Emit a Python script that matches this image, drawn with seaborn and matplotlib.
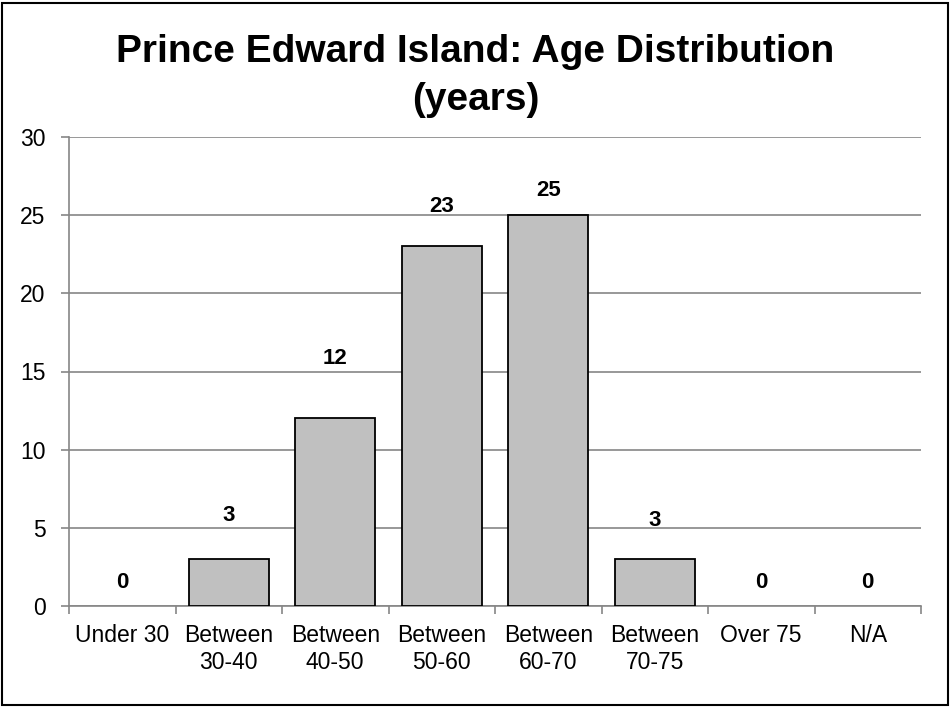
import matplotlib
matplotlib.use("Agg")
import matplotlib.pyplot as plt
import seaborn as sns
import pandas as pd
from matplotlib.patches import Rectangle

categories = ["Under 30", "Between\n30-40", "Between\n40-50", "Between\n50-60",
              "Between\n60-70", "Between\n70-75", "Over 75", "N/A"]
counts = [0, 3, 12, 23, 25, 3, 0, 0]
y_ticks = [0, 5, 10, 15, 20, 25, 30]
# vertical offset (pixels) of each value label above its bar
label_offsets = [23, 44, 60, 40, 25, 39, 23, 23]

sns.set_theme(style="white")
plt.rcParams["font.family"] = ["Liberation Sans", "DejaVu Sans"]
plt.rcParams["text.color"] = "black"
plt.rcParams["xtick.color"] = "black"
plt.rcParams["ytick.color"] = "black"

df = pd.DataFrame({"category": categories, "count": counts})

fig = plt.figure(figsize=(9.51, 7.08), dpi=100)
ax = fig.add_axes([69 / 951, 1 - 606 / 708, (921 - 69) / 951, (606 - 137) / 708])

sns.barplot(data=df, x="category", y="count", ax=ax, color="#c0c0c0",
            saturation=1, width=0.75, edgecolor="black", linewidth=1.3, zorder=3)

# empty categories show no outline on the baseline
for bar in ax.patches:
    if bar.get_height() == 0:
        bar.set_linewidth(0)

ax.set_ylim(0, 30)
ax.set_xlim(-0.5, len(categories) - 0.5)
ax.set_yticks(y_ticks)
ax.set_yticklabels([str(t) for t in y_ticks], fontsize=16.5)
ax.yaxis.grid(True, color="#868686", linewidth=1.2, zorder=0)
ax.set_axisbelow(True)
ax.set_xlabel("")
ax.set_ylabel("")

# category-boundary ticks on the x axis
ax.set_xticks([i - 0.5 for i in range(len(categories) + 1)], minor=False)
ax.set_xticklabels([])
ax.set_xticks(range(len(categories)), minor=True)
ax.set_xticklabels(categories, minor=True, fontsize=16.5, linespacing=1.2)
ax.tick_params(axis="x", which="major", length=6, width=1.2, color="#868686",
               direction="out", bottom=True)
ax.tick_params(axis="x", which="minor", length=0, pad=13)
ax.tick_params(axis="y", length=6, width=1.2, color="#868686", direction="out",
               left=True, pad=11, labelcolor="black")
ax.tick_params(axis="x", which="both", labelcolor="black")

for side in ["top", "right"]:
    ax.spines[side].set_visible(False)
for side in ["left", "bottom"]:
    ax.spines[side].set_color("#868686")
    ax.spines[side].set_linewidth(1.2)

for i, (v, off) in enumerate(zip(counts, label_offsets)):
    ax.annotate(str(v), xy=(i, v), xytext=(0, off), textcoords="offset pixels",
                ha="center", va="center", fontsize=16, fontweight="bold",
                color="black")

fig.text(0.5, 1 - 76 / 708, "Prince Edward Island: Age Distribution\n(years)",
         ha="center", va="center", fontsize=28, fontweight="bold",
         linespacing=1.42, color="black")

fig.patches.append(Rectangle((2 / 951, 3 / 708), 946 / 951, 702 / 708,
                             transform=fig.transFigure, fill=False,
                             edgecolor="black", linewidth=1.5))

fig.savefig("out.png", dpi=100)
